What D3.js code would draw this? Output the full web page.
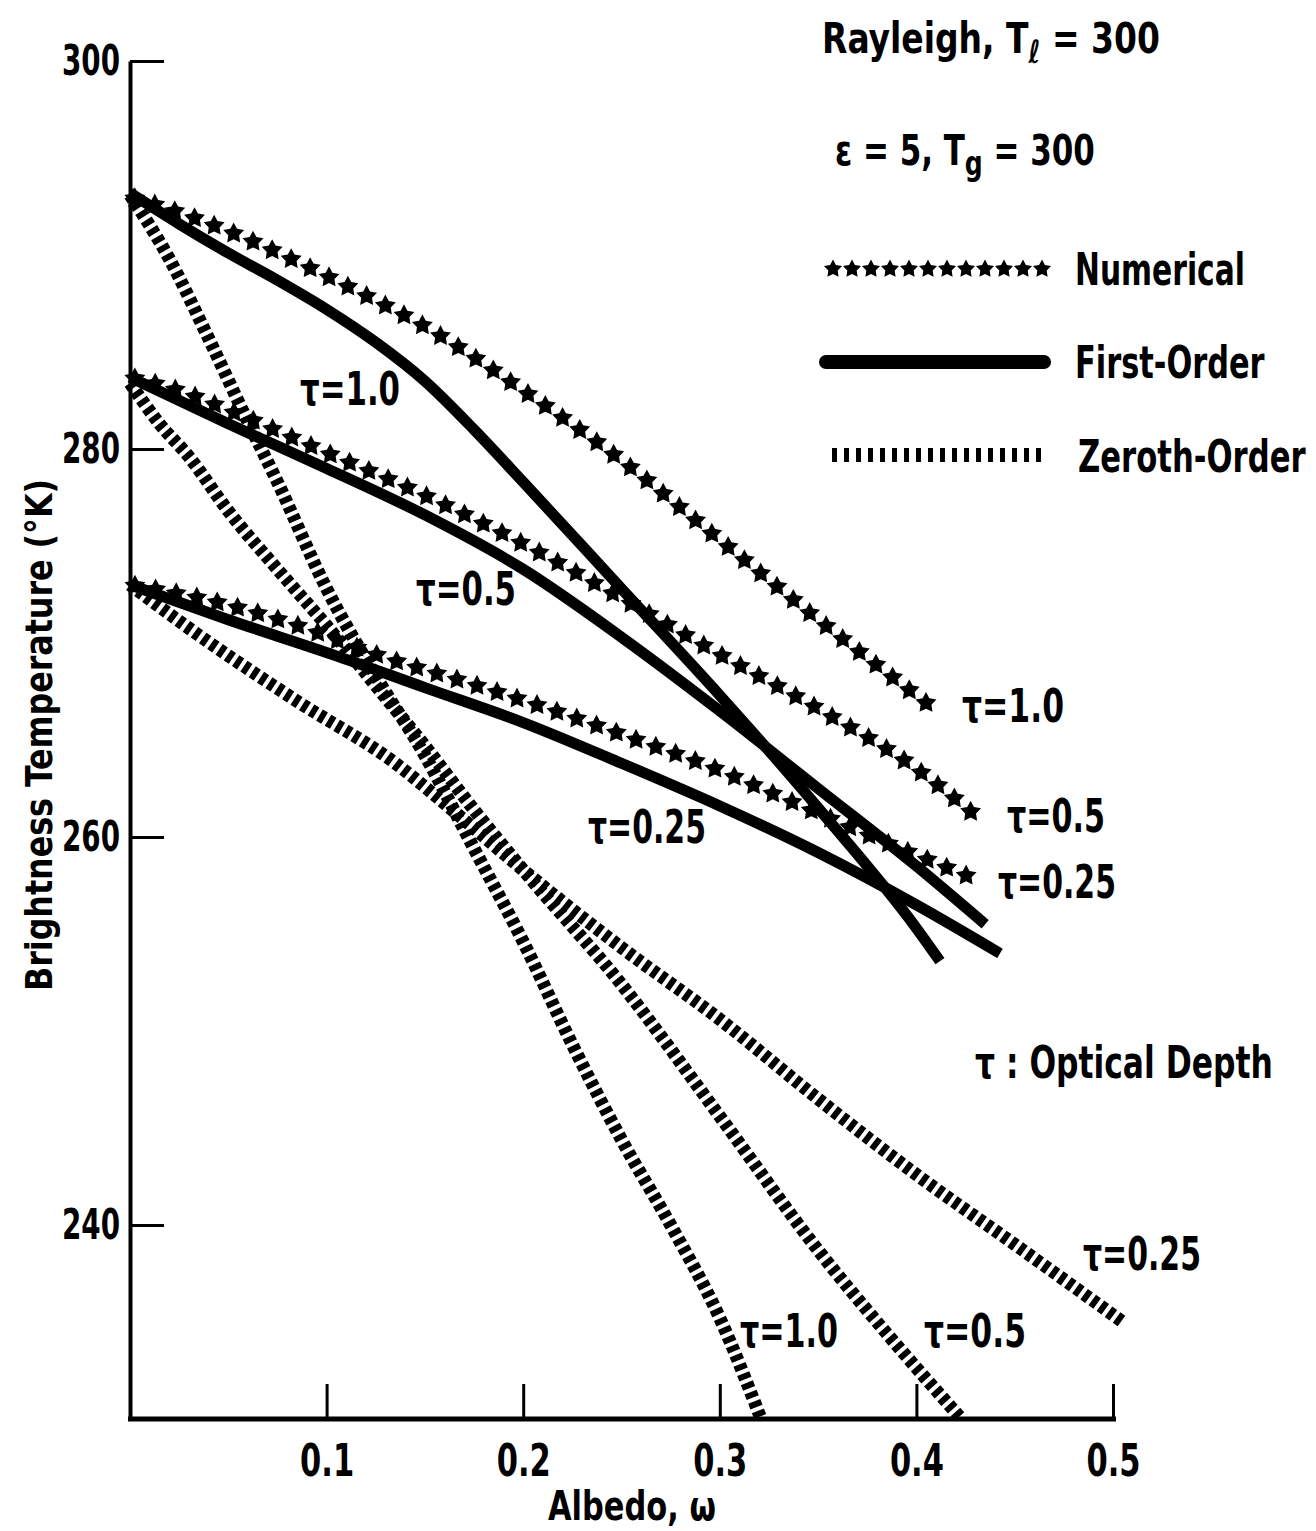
<!DOCTYPE html>
<html>
<head>
<meta charset="utf-8">
<script src="https://cdn.jsdelivr.net/npm/d3@7"></script>
<style>
body { margin: 0; background: #fff; }
text { font-family: "Liberation Sans Narrow", "DejaVu Sans Condensed", "DejaVu Sans", sans-serif; font-weight: bold; fill: #000; }
</style>
</head>
<body>
<svg id="chart" width="1316" height="1531"></svg>
<script>
// axis ticks
var albedoTicks = [0.1, 0.2, 0.3, 0.4, 0.5];
var tempTicks = [240, 260, 280, 300];

// Numerical (stars)  [albedo, brightness temp]
var numTau1 = [[0, 293.0], [0.03, 292.0], [0.06, 290.8], [0.09, 289.4], [0.12, 287.9], [0.15, 286.3],
               [0.20, 283.0], [0.25, 279.4], [0.30, 275.3], [0.35, 271.2], [0.405, 266.9]];
var numTau05 = [[0, 283.7], [0.025, 283.0], [0.05, 282.0], [0.10, 279.8], [0.15, 277.6], [0.20, 275.1],
                [0.25, 272.3], [0.30, 269.4], [0.35, 266.6], [0.40, 263.5], [0.43, 261.1]];
var numTau025 = [[0, 273.0], [0.04, 272.2], [0.085, 270.9], [0.128, 269.3], [0.17, 268.0], [0.213, 266.6],
                 [0.255, 265.1], [0.298, 263.5], [0.33, 262.1], [0.38, 259.9], [0.428, 257.9]];

// First-order (solid)
var firstTau1 = [[0, 293.2], [0.025, 291.6], [0.05, 290.1], [0.075, 288.7], [0.10, 287.2], [0.125, 285.5],
                 [0.15, 283.5], [0.175, 281.0], [0.20, 278.3], [0.25, 272.8], [0.30, 267.3], [0.35, 261.5],
                 [0.40, 255.3], [0.412, 253.6]];
var firstTau05 = [[0, 283.7], [0.05, 281.3], [0.10, 279.0], [0.15, 276.6], [0.20, 273.8], [0.25, 270.3],
                  [0.30, 266.5], [0.35, 262.5], [0.40, 258.5], [0.435, 255.5]];
var firstTau025 = [[0, 273.0], [0.05, 271.2], [0.106, 269.3], [0.15, 267.7], [0.20, 265.9], [0.25, 263.8],
                   [0.30, 261.6], [0.35, 259.2], [0.40, 256.5], [0.4425, 254.0]];

// Zeroth-order (hatched)
var zeroTau1 = [[0, 293.1], [0.02, 289.8], [0.04, 285.7], [0.06, 281.4], [0.075, 278.3], [0.10, 272.8],
                [0.125, 268.3], [0.15, 264.2], [0.175, 259.4], [0.20, 254.6], [0.225, 249.3], [0.25, 244.4],
                [0.275, 240.0], [0.30, 235.2], [0.321, 230.0]];
var zeroTau05 = [[0, 283.4], [0.015, 281.3], [0.03, 279.6], [0.05, 276.8], [0.075, 273.8], [0.10, 270.9],
                 [0.125, 267.8], [0.15, 264.7], [0.175, 261.4], [0.20, 258.3], [0.25, 252.4], [0.30, 245.6],
                 [0.35, 238.7], [0.385, 234.4], [0.423, 230.0]];
var zeroTau025 = [[0, 273.0], [0.035, 270.4], [0.085, 267.0], [0.135, 263.8], [0.165, 261.3], [0.20, 258.3],
                  [0.25, 254.3], [0.30, 250.6], [0.35, 246.5], [0.40, 242.6], [0.45, 239.0], [0.505, 235.0]];

var svg = d3.select("#chart");

var x = d3.scaleLinear().domain([0, 0.5]).range([130, 1113]);
var y = d3.scaleLinear().domain([230, 300]).range([1419, 61]);

var line = d3.line()
    .x(function(d) { return x(d[0]); })
    .y(function(d) { return y(d[1]); })
    .curve(d3.curveMonotoneX);

// squeeze a single-run text to the width it has in the figure
function fit(sel, w) {
    sel.attr("textLength", w).attr("lengthAdjust", "spacingAndGlyphs");
}

// axes
var yAxis = svg.append("g")
    .attr("transform", "translate(" + x(0) + ",0)")
    .call(d3.axisLeft(y).tickValues(tempTicks).tickSize(-34).tickSizeOuter(0).tickPadding(10));
yAxis.select(".domain").attr("stroke", "#000").attr("stroke-width", 4);
yAxis.selectAll(".tick line").attr("stroke", "#000").attr("stroke-width", 3);
yAxis.selectAll(".tick text").style("font-size", "42px").call(fit, 58);

var xAxis = svg.append("g")
    .attr("transform", "translate(0," + y(230) + ")")
    .call(d3.axisBottom(x).tickValues(albedoTicks).tickSize(-35).tickSizeOuter(0).tickPadding(26)
        .tickFormat(d3.format(".1f")));
xAxis.select(".domain").attr("stroke", "#000").attr("stroke-width", 5).attr("d", "M128,0H1116");
xAxis.selectAll(".tick line").attr("stroke", "#000").attr("stroke-width", 3);
xAxis.selectAll(".tick text").style("font-size", "44px").call(fit, 54);

// curves
var plot = svg.append("g");

function hatched(data) {
    plot.append("path")
        .attr("d", line(data))
        .attr("fill", "none")
        .attr("stroke", "#000")
        .attr("stroke-width", 13)
        .attr("stroke-dasharray", "6,4");
}

function solid(data) {
    plot.append("path")
        .attr("d", line(data))
        .attr("fill", "none")
        .attr("stroke", "#000")
        .attr("stroke-width", 11)
        .attr("stroke-linejoin", "round");
}

// five-point star with fat arms, like the typed marks
var fatStar = {
    draw: function(ctx, size) {
        var R = Math.sqrt(size), r = R * 0.52;
        for (var i = 0; i < 10; i++) {
            var a = -Math.PI / 2 + i * Math.PI / 5, rad = i % 2 ? r : R;
            if (i === 0) ctx.moveTo(rad * Math.cos(a), rad * Math.sin(a));
            else ctx.lineTo(rad * Math.cos(a), rad * Math.sin(a));
        }
        ctx.closePath();
    }
};

function stars(data) {
    var p = plot.append("path").attr("d", line(data)).attr("fill", "none").attr("stroke", "none");
    var node = p.node();
    var len = node.getTotalLength();
    var pts = d3.range(5, len, 21).map(function(s) { return node.getPointAtLength(s); });
    plot.selectAll(null).data(pts).enter().append("path")
        .attr("d", d3.symbol().type(fatStar).size(121))
        .attr("transform", function(d) { return "translate(" + d.x + "," + d.y + ")"; })
        .attr("fill", "#000");
}

[zeroTau1, zeroTau05, zeroTau025].forEach(hatched);
[firstTau1, firstTau05, firstTau025].forEach(solid);
[numTau1, numTau05, numTau025].forEach(stars);

// legend
var legend = svg.append("g");
legend.selectAll(null).data(d3.range(12)).enter().append("path")
    .attr("d", d3.symbol().type(fatStar).size(90))
    .attr("transform", function(d) { return "translate(" + (833 + d * 19) + ",269)"; });
legend.append("line").attr("x1", 826).attr("x2", 1044).attr("y1", 362).attr("y2", 362)
    .attr("stroke", "#000").attr("stroke-width", 14).attr("stroke-linecap", "round");
legend.append("line").attr("x1", 832).attr("x2", 1046).attr("y1", 455).attr("y2", 455)
    .attr("stroke", "#000").attr("stroke-width", 14).attr("stroke-dasharray", "5,7");

function label(txt, lx, ly, size, w, anchor) {
    var t = svg.append("text").attr("x", lx).attr("y", ly).style("font-size", size + "px").text(txt);
    if (anchor) t.attr("text-anchor", anchor);
    if (w) fit(t, w);
    return t;
}

// scale a text horizontally about x0 to a given width
function squeezeGroup(t, x0, w) {
    var bw = t.node().getBBox().width;
    t.attr("transform", "translate(" + x0 + ",0) scale(" + (w / bw) + ",1) translate(" + (-x0) + ",0)");
}

label("Numerical", 1075, 285, 44, 170);
squeezeGroup(label("First-Order", 1075, 378, 44), 1075, 190);
squeezeGroup(label("Zeroth-Order", 1078, 472, 44), 1078, 228);

var t1 = label("Rayleigh,  T", 822, 53, 42);
t1.append("tspan").attr("dy", 10).style("font-size", "32px").text("ℓ");
t1.append("tspan").attr("dy", -10).text(" = 300");
squeezeGroup(t1, 822, 338);

var t2 = label("ε = 5, T", 835, 165, 42);
t2.append("tspan").attr("dy", 10).style("font-size", "34px").text("g");
t2.append("tspan").attr("dy", -10).text(" = 300");
squeezeGroup(t2, 835, 260);

squeezeGroup(label("τ : Optical Depth", 975, 1078, 44), 975, 298);

// curve labels
var curveLabels = [
    ["τ=1.0", 300, 405, 100], ["τ=0.5", 416, 605, 100], ["τ=0.25", 588, 843, 118],
    ["τ=1.0", 962, 722, 102], ["τ=0.5", 1007, 832, 98], ["τ=0.25", 998, 898, 118],
    ["τ=1.0", 740, 1347, 98], ["τ=0.5", 924, 1347, 102], ["τ=0.25", 1083, 1270, 118]
];
curveLabels.forEach(function(c) { label(c[0], c[1], c[2], 46, c[3]); });

// axis titles
var yTitle = svg.append("text")
    .attr("transform", "translate(52,735) rotate(-90)")
    .attr("text-anchor", "middle")
    .style("font-size", "38px")
    .text("Brightness Temperature (°K)");
fit(yTitle, 512);

var xTitle = svg.append("text")
    .attr("x", 632).attr("y", 1520)
    .attr("text-anchor", "middle")
    .style("font-size", "40px")
    .text("Albedo, ω");
fit(xTitle, 168);
</script>
</body>
</html>
